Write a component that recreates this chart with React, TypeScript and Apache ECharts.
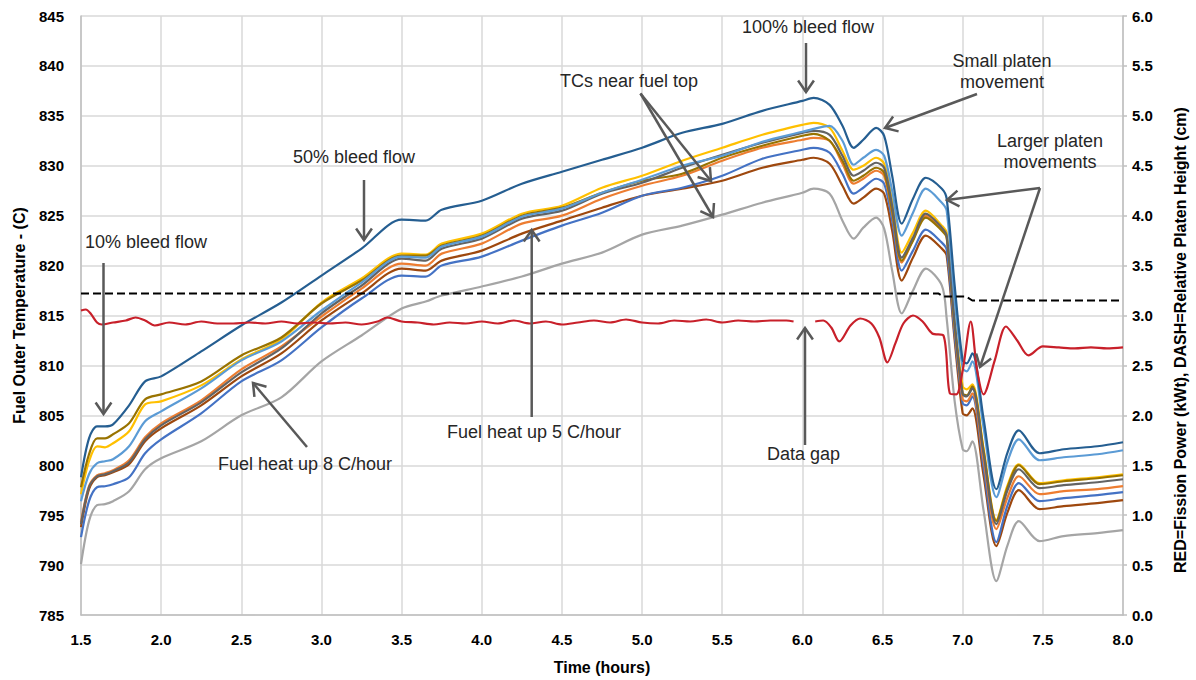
import React, { useEffect, useRef } from "react";
import * as echarts from "echarts";

// ---- data ----
const TIME = [1.5, 1.55, 1.6, 1.65, 1.7, 1.8, 1.9, 2.0, 2.25, 2.5, 2.75, 3.0, 3.25, 3.5, 3.65, 3.75, 4.0, 4.25, 4.5, 4.75, 5.0, 5.25, 5.5, 5.75, 6.0, 6.07, 6.17, 6.25, 6.32, 6.38, 6.46, 6.51, 6.56, 6.62, 6.69, 6.77, 6.87, 6.9, 6.95, 7.0, 7.025, 7.06, 7.13, 7.21, 7.28, 7.35, 7.48, 7.63, 7.84, 8.0];

const DARK_BLUE = [798.8, 802.7, 803.9, 803.9, 804.1, 806.0, 808.4, 808.9, 811.4, 814.0, 816.3, 819.0, 821.7, 824.6, 824.5, 825.6, 826.5, 828.2, 829.4, 830.6, 831.8, 833.3, 834.2, 835.5, 836.5, 836.8, 836.1, 834.0, 831.8, 832.6, 833.8, 833.0, 829.0, 824.2, 826.7, 828.8, 827.7, 826.7, 818.0, 810.5, 810.2, 811.2, 804.7, 797.6, 801.3, 803.5, 801.2, 801.6, 801.9, 802.3];
const LIGHT_BLUE = [796.4, 799.1, 800.2, 800.4, 800.6, 801.9, 804.4, 805.4, 807.7, 810.5, 812.4, 815.5, 818.3, 820.9, 820.8, 821.9, 822.9, 824.9, 825.7, 827.3, 828.6, 830.0, 831.0, 832.4, 833.4, 833.7, 834.0, 832.5, 830.1, 830.8, 831.6, 831.0, 827.5, 823.0, 825.3, 827.7, 826.3, 825.5, 816.5, 809.7, 809.4, 810.4, 803.8, 796.8, 800.4, 802.6, 800.5, 800.8, 801.1, 801.5];
const GOLD = [797.1, 800.4, 801.9, 801.8, 802.2, 803.4, 806.1, 806.4, 808.0, 810.6, 812.6, 816.3, 818.7, 821.2, 821.1, 822.2, 823.2, 825.2, 826.0, 827.8, 829.0, 830.5, 831.8, 833.1, 834.1, 834.3, 833.8, 831.5, 829.6, 830.0, 830.8, 830.2, 826.5, 821.3, 823.3, 825.5, 824.0, 823.3, 814.5, 807.9, 807.6, 808.1, 801.7, 794.5, 798.0, 800.1, 798.2, 798.5, 798.8, 799.1];
const DARK_GOLD = [797.8, 801.1, 802.7, 802.7, 803.1, 804.2, 806.6, 807.1, 808.4, 811.0, 812.8, 816.2, 818.5, 821.0, 821.0, 822.0, 823.0, 825.0, 825.8, 827.3, 828.5, 829.2, 830.8, 832.0, 833.0, 833.2, 832.5, 830.5, 828.5, 829.0, 829.8, 829.3, 825.5, 820.5, 822.5, 824.8, 823.5, 822.8, 814.0, 807.2, 807.0, 807.9, 801.5, 794.4, 797.8, 800.0, 798.1, 798.4, 798.7, 799.0];
const DARK_GRAY = [794.1, 797.8, 798.9, 799.1, 799.4, 800.3, 802.6, 804.0, 806.3, 809.3, 811.7, 815.2, 818.0, 820.7, 820.5, 821.7, 822.7, 824.7, 825.5, 827.2, 828.3, 829.8, 831.1, 832.3, 833.3, 833.5, 833.1, 831.0, 829.0, 829.5, 830.3, 829.8, 826.0, 820.8, 822.8, 825.2, 823.8, 823.0, 814.3, 807.1, 806.9, 807.7, 801.2, 794.1, 797.5, 799.6, 797.7, 798.0, 798.3, 798.6];
const ORANGE = [794.3, 797.9, 799.0, 799.2, 799.5, 800.5, 802.8, 804.2, 806.5, 809.6, 811.9, 814.9, 817.7, 820.2, 820.0, 821.2, 822.2, 824.2, 825.0, 826.7, 828.0, 829.0, 830.5, 831.8, 832.6, 832.8, 832.5, 830.2, 828.2, 828.7, 829.5, 829.0, 825.3, 820.3, 822.6, 825.0, 823.7, 822.9, 813.8, 806.6, 806.4, 807.2, 800.6, 793.6, 796.8, 798.9, 797.1, 797.4, 797.6, 797.9];
const BLUE = [792.8, 796.4, 797.8, 797.9, 798.1, 798.8, 801.2, 802.6, 805.2, 808.4, 810.5, 813.8, 816.7, 819.0, 818.9, 820.0, 820.9, 822.5, 824.0, 825.3, 827.0, 827.8, 829.0, 830.7, 831.6, 831.8, 831.3, 829.2, 827.2, 827.8, 828.7, 828.2, 824.5, 819.5, 821.5, 823.6, 822.3, 821.6, 813.0, 806.2, 806.0, 806.9, 799.8, 792.3, 796.0, 798.2, 796.4, 796.7, 797.0, 797.3];
const BROWN = [793.8, 797.6, 798.8, 799.0, 799.3, 800.1, 802.4, 803.7, 806.0, 808.9, 811.2, 814.5, 817.2, 819.7, 819.5, 820.5, 821.5, 823.2, 824.5, 825.8, 827.0, 827.7, 828.5, 829.8, 830.6, 830.8, 830.2, 828.0, 826.2, 826.8, 827.7, 827.2, 823.5, 818.5, 820.8, 823.0, 821.7, 821.0, 812.5, 805.2, 805.0, 805.7, 799.0, 791.9, 795.3, 797.5, 795.6, 795.9, 796.2, 796.5];
const LIGHT_GRAY = [790.1, 794.4, 796.0, 796.1, 796.4, 797.4, 799.6, 800.7, 802.4, 805.0, 806.8, 810.4, 813.0, 815.7, 816.4, 817.0, 817.9, 818.9, 820.2, 821.3, 823.1, 824.0, 825.1, 826.3, 827.3, 827.7, 827.2, 824.5, 822.7, 823.8, 824.8, 823.7, 819.5, 815.2, 817.5, 819.7, 818.0, 814.7, 806.4, 801.6, 801.4, 802.4, 795.5, 788.4, 792.0, 794.4, 792.4, 792.9, 793.2, 793.5];

const POWER_TIME = [1.5, 1.53, 1.56, 1.6, 1.63, 1.7, 1.78, 1.84, 1.9, 1.96, 2.05, 2.15, 2.25, 2.35, 2.45, 2.55, 2.65, 2.75, 2.85, 2.95, 3.05, 3.15, 3.25, 3.35, 3.41, 3.5, 3.6, 3.7, 3.8, 3.9, 4.0, 4.1, 4.2, 4.3, 4.4, 4.5, 4.6, 4.7, 4.8, 4.9, 5.0, 5.1, 5.2, 5.3, 5.4, 5.5, 5.6, 5.7, 5.8, 5.9, 5.945, 6.0, 6.08, 6.13, 6.18, 6.23, 6.3, 6.36, 6.43, 6.48, 6.53, 6.58, 6.63, 6.69, 6.75, 6.81, 6.88, 6.92, 6.96, 7.0, 7.05, 7.09, 7.13, 7.2, 7.27, 7.34, 7.41, 7.5, 7.6, 7.7, 7.8, 7.9, 8.0];
const POWER = [3.05, 3.06, 3.02, 2.93, 2.91, 2.93, 2.95, 2.98, 2.95, 2.90, 2.93, 2.91, 2.94, 2.92, 2.92, 2.93, 2.92, 2.94, 2.92, 2.93, 2.92, 2.93, 2.91, 2.94, 2.98, 2.94, 2.93, 2.91, 2.93, 2.92, 2.94, 2.92, 2.95, 2.92, 2.94, 2.91, 2.93, 2.95, 2.93, 2.96, 2.93, 2.92, 2.95, 2.94, 2.96, 2.93, 2.95, 2.94, 2.95, 2.95, 2.94, null, 2.94, 2.95, 2.88, 2.74, 2.90, 2.97, 2.92, 2.78, 2.53, 2.72, 2.92, 3.00, 2.94, 2.82, 2.80, 2.22, 2.21, 2.45, 2.94, 2.45, 2.21, 2.55, 2.89, 2.75, 2.60, 2.69, 2.68, 2.67, 2.68, 2.67, 2.68];

const PLATEN_TIME = [1.5, 6.85, 6.88, 7.02, 7.06, 8.0];
const PLATEN = [3.22, 3.22, 3.19, 3.19, 3.15, 3.15];

const TEMP_SERIES = [
  { name: "TC light gray", color: "#A5A5A5", values: LIGHT_GRAY },
  { name: "TC brown", color: "#9E480E", values: BROWN },
  { name: "TC blue", color: "#4472C4", values: BLUE },
  { name: "TC orange", color: "#ED7D31", values: ORANGE },
  { name: "TC gold", color: "#FFC000", values: GOLD },
  { name: "TC dark gold", color: "#997300", values: DARK_GOLD },
  { name: "TC dark gray", color: "#636363", values: DARK_GRAY },
  { name: "TC light blue", color: "#5B9BD5", values: LIGHT_BLUE },
  { name: "TC dark blue", color: "#255E91", values: DARK_BLUE },
];

const FONT = '"Liberation Sans", Arial, sans-serif';
const ARROW = "#595959";
const RIGHT_TITLE = "RED=Fission Power (kWt), DASH=Relative Platen Height (cm)";

function arrow(x1: number, y1: number, x2: number, y2: number) {
  const dx = x2 - x1, dy = y2 - y1;
  const len = Math.hypot(dx, dy);
  const bx = -dx / len, by = -dy / len;
  const L = 14, a = 0.6;
  const c = Math.cos(a), s = Math.sin(a);
  const w1 = [x2 + L * (bx * c - by * s), y2 + L * (bx * s + by * c)];
  const w2 = [x2 + L * (bx * c + by * s), y2 + L * (-bx * s + by * c)];
  return [
    { type: "line", shape: { x1, y1, x2, y2 }, style: { stroke: ARROW, lineWidth: 2.5 }, z: 100 },
    { type: "polyline", shape: { points: [w1, [x2, y2], w2] }, style: { stroke: ARROW, lineWidth: 2.5, fill: null }, z: 100 },
  ];
}

function label(text: string, x: number, y: number, align: string = "left") {
  return {
    type: "text",
    x,
    y,
    z: 100,
    style: { text, fill: "#262626", font: `18px ${FONT}`, align, verticalAlign: "middle" },
  };
}

export default function App() {
  const ref = useRef<HTMLDivElement>(null);

  useEffect(() => {
    document.body.style.margin = "0";
    if (!ref.current) return;
    const chart = echarts.init(ref.current, undefined, { renderer: "svg" });

    const tickStyle = { color: "#000", fontWeight: "bold", fontSize: 15, fontFamily: FONT };
    const nameStyle = { color: "#000", fontWeight: "bold", fontSize: 16, fontFamily: FONT };

    const series: any[] = TEMP_SERIES.map((s) => ({
      name: s.name,
      type: "line",
      yAxisIndex: 0,
      data: TIME.map((t, i) => [t, s.values[i]]),
      showSymbol: false,
      symbol: "none",
      smooth: 0.3,
      lineStyle: { color: s.color, width: 2.2 },
      itemStyle: { color: s.color },
    }));
    series.push({
      name: "Fission power",
      type: "line",
      yAxisIndex: 1,
      data: POWER_TIME.map((t, i) => [t, POWER[i]]),
      connectNulls: false,
      showSymbol: false,
      symbol: "none",
      smooth: 0.3,
      lineStyle: { color: "#C8202A", width: 2.2 },
      itemStyle: { color: "#C8202A" },
    });
    series.push({
      name: "Platen height",
      type: "line",
      yAxisIndex: 1,
      data: PLATEN_TIME.map((t, i) => [t, PLATEN[i]]),
      showSymbol: false,
      symbol: "none",
      lineStyle: { color: "#000", width: 2, type: [8, 4] },
      itemStyle: { color: "#000" },
    });

    const graphics: any[] = [
      label("10% bleed flow", 85, 242),
      ...arrow(103.5, 263, 103.5, 414),
      label("50% bleed flow", 293, 157),
      ...arrow(364, 180, 364, 240),
      label("TCs near fuel top", 560, 81),
      ...arrow(640.5, 93.5, 711, 181),
      ...arrow(640.5, 93.5, 713, 217),
      label("100% bleed flow", 742, 27),
      ...arrow(806, 43, 806, 92),
      label("Small platen", 1002, 61, "center"),
      label("movement", 1002, 82, "center"),
      ...arrow(977, 94, 885, 128),
      label("Larger platen", 1050, 141, "center"),
      label("movements", 1050, 162, "center"),
      ...arrow(1040, 188, 947, 200),
      ...arrow(1040, 188, 980, 367),
      label("Fuel heat up 8 C/hour", 218, 464),
      ...arrow(307, 447, 253, 383),
      label("Fuel heat up 5 C/hour", 447, 432),
      ...arrow(531.7, 417, 531.7, 230),
      label("Data gap", 767, 454),
      ...arrow(805, 445, 805, 328),
      {
        type: "text",
        x: 1180,
        y: 340,
        rotation: Math.PI / 2,
        z: 100,
        style: { text: RIGHT_TITLE, fill: "#000", font: `bold 16px ${FONT}`, align: "center", verticalAlign: "middle" },
      },
    ];

    chart.setOption({
      animation: false,
      backgroundColor: "#ffffff",
      grid: { left: 81, right: 73, top: 16, bottom: 62, containLabel: false },
      tooltip: { show: false },
      xAxis: {
        type: "value",
        min: 1.5,
        max: 8,
        interval: 0.5,
        name: "Time (hours)",
        nameLocation: "middle",
        nameGap: 44,
        nameTextStyle: nameStyle,
        axisLine: { show: true, lineStyle: { color: "#bfbfbf", width: 1.5 } },
        axisTick: { show: false },
        axisLabel: { ...tickStyle, margin: 17, formatter: (v: number) => v.toFixed(1) },
        splitLine: { show: true, lineStyle: { color: "#d9d9d9", width: 1.5 } },
      },
      yAxis: [
        {
          type: "value",
          position: "left",
          min: 785,
          max: 845,
          interval: 5,
          name: "Fuel Outer Temperature - (C)",
          nameLocation: "middle",
          nameRotate: 90,
          nameGap: 54,
          nameTextStyle: nameStyle,
          axisLine: { show: true, lineStyle: { color: "#bfbfbf", width: 1.5 } },
          axisTick: { show: false },
          axisLabel: { ...tickStyle, margin: 17 },
          splitLine: { show: true, lineStyle: { color: "#d9d9d9", width: 1.5 } },
        },
        {
          type: "value",
          position: "right",
          min: 0,
          max: 6,
          interval: 0.5,
          axisLine: { show: true, lineStyle: { color: "#bfbfbf", width: 1.5 } },
          axisTick: { show: true, length: 4, lineStyle: { color: "#bfbfbf", width: 1.5 } },
          axisLabel: { ...tickStyle, margin: 9, formatter: (v: number) => v.toFixed(1) },
          splitLine: { show: false },
        },
      ],
      series,
      graphic: graphics,
    });

    return () => {
      chart.dispose();
    };
  }, []);

  return <div ref={ref} style={{ width: 1196, height: 680 }} />;
}
